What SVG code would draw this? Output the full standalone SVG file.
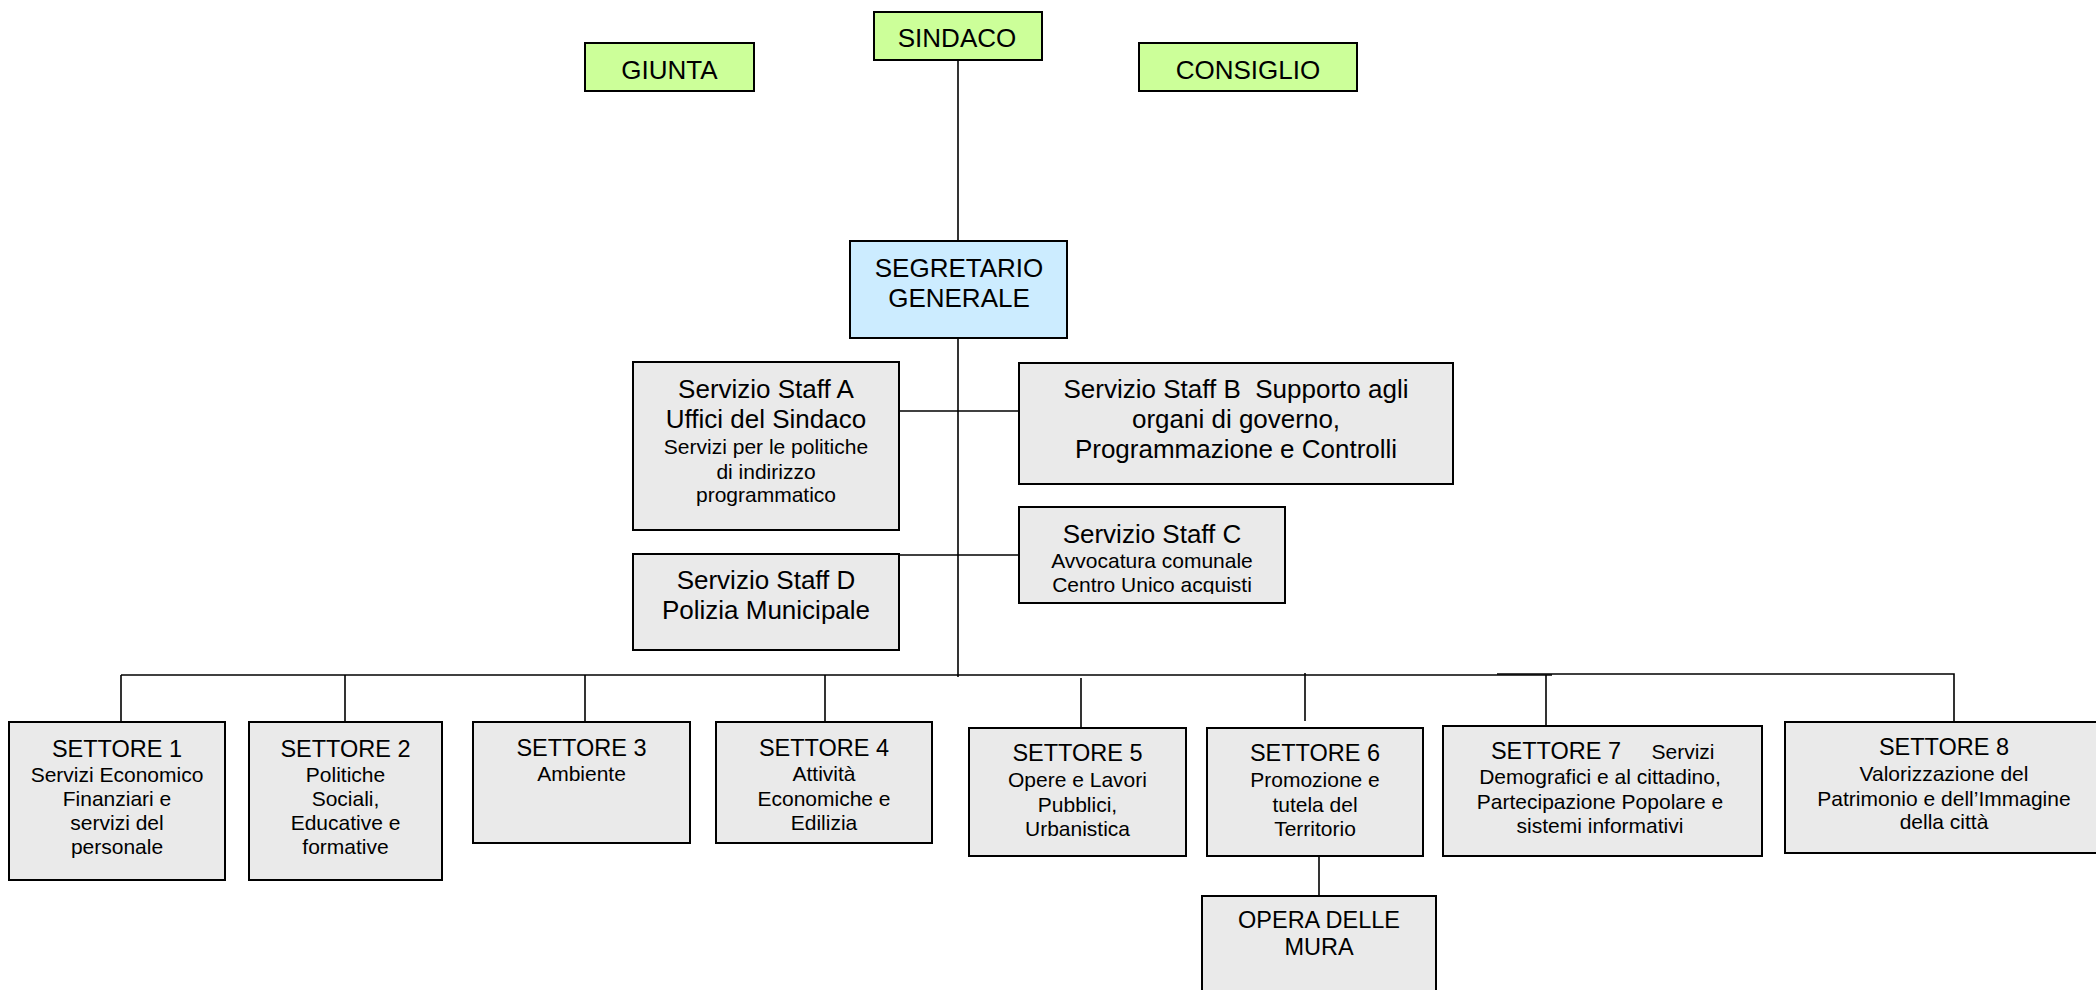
<svg xmlns="http://www.w3.org/2000/svg" width="2096" height="990" viewBox="0 0 2096 990">
<style>
.box{stroke:#000;stroke-width:2}
.g{fill:#CCFF99}
.b{fill:#CCECFF}
.n{fill:#EAEAEA}
.c{stroke:#000;stroke-width:1.6;fill:none}
text{font-family:"Liberation Sans",Arial,sans-serif;fill:#000;text-anchor:middle}
.t1{font-size:26px}
.t2{font-size:23.5px}
.t3{font-size:21px}
</style>
<defs>
<clipPath id="clipC"><rect x="1020" y="508" width="264" height="86"/></clipPath>
</defs>
<rect width="2096" height="990" fill="#fff"/>
<g id="connectors">
<line class="c" x1="958" y1="61" x2="958" y2="241"/>
<line class="c" x1="958" y1="338" x2="958" y2="677"/>
<line class="c" x1="899" y1="411" x2="1019" y2="411"/>
<line class="c" x1="899" y1="555" x2="1019" y2="555"/>
<line class="c" x1="121" y1="675" x2="1552" y2="675"/>
<polyline class="c" points="1497,674 1954,674 1954,722"/>
<line class="c" x1="121" y1="675" x2="121" y2="722"/>
<line class="c" x1="345" y1="675" x2="345" y2="722"/>
<line class="c" x1="585" y1="675" x2="585" y2="722"/>
<line class="c" x1="825" y1="675" x2="825" y2="722"/>
<line class="c" x1="1081" y1="678" x2="1081" y2="728"/>
<line class="c" x1="1305" y1="673" x2="1305" y2="721"/>
<line class="c" x1="1546" y1="675" x2="1546" y2="726"/>
<line class="c" x1="1319" y1="845" x2="1319" y2="895"/>
</g>
<g id="sindaco">
<rect class="box g" x="874" y="12" width="168" height="48"/>
<text class="t1" x="957" y="47">SINDACO</text>
</g>
<g id="giunta">
<rect class="box g" x="585" y="43" width="169" height="48"/>
<text class="t1" x="669.5" y="79">GIUNTA</text>
</g>
<g id="consiglio">
<rect class="box g" x="1139" y="43" width="218" height="48"/>
<text class="t1" x="1248" y="79">CONSIGLIO</text>
</g>
<g id="segretario">
<rect class="box b" x="850" y="241" width="217" height="97"/>
<text class="t1" x="959" y="277">SEGRETARIO</text>
<text class="t1" x="959" y="307">GENERALE</text>
</g>
<g id="staffA">
<rect class="box n" x="633" y="362" width="266" height="168"/>
<text class="t1" x="766" y="398">Servizio Staff A</text>
<text class="t1" x="766" y="428">Uffici del Sindaco</text>
<text class="t3" x="766" y="454">Servizi per le politiche</text>
<text class="t3" x="766" y="479">di indirizzo</text>
<text class="t3" x="766" y="502">programmatico</text>
</g>
<g id="staffB">
<rect class="box n" x="1019" y="363" width="434" height="121"/>
<text class="t1" x="1236" y="398" xml:space="preserve">Servizio Staff B  Supporto agli</text>
<text class="t1" x="1236" y="428">organi di governo,</text>
<text class="t1" x="1236" y="458">Programmazione e Controlli</text>
</g>
<g id="staffC">
<rect class="box n" x="1019" y="507" width="266" height="96"/>
<g clip-path="url(#clipC)">
<text class="t1" x="1152" y="543">Servizio Staff C</text>
<text class="t3" x="1152" y="568">Avvocatura comunale</text>
<text class="t3" x="1152" y="592">Centro Unico acquisti</text>
</g>
</g>
<g id="staffD">
<rect class="box n" x="633" y="554" width="266" height="96"/>
<text class="t1" x="766" y="589">Servizio Staff D</text>
<text class="t1" x="766" y="619">Polizia Municipale</text>
</g>
<g id="settore1">
<rect class="box n" x="9" y="722" width="216" height="158"/>
<text class="t2" x="117" y="757">SETTORE 1</text>
<text class="t3" x="117" y="782">Servizi Economico</text>
<text class="t3" x="117" y="806">Finanziari e</text>
<text class="t3" x="117" y="830">servizi del</text>
<text class="t3" x="117" y="854">personale</text>
</g>
<g id="settore2">
<rect class="box n" x="249" y="722" width="193" height="158"/>
<text class="t2" x="345.5" y="757">SETTORE 2</text>
<text class="t3" x="345.5" y="782">Politiche</text>
<text class="t3" x="345.5" y="806">Sociali,</text>
<text class="t3" x="345.5" y="830">Educative e</text>
<text class="t3" x="345.5" y="854">formative</text>
</g>
<g id="settore3">
<rect class="box n" x="473" y="722" width="217" height="121"/>
<text class="t2" x="581.5" y="756">SETTORE 3</text>
<text class="t3" x="581.5" y="781">Ambiente</text>
</g>
<g id="settore4">
<rect class="box n" x="716" y="722" width="216" height="121"/>
<text class="t2" x="824" y="756">SETTORE 4</text>
<text class="t3" x="824" y="781">Attività</text>
<text class="t3" x="824" y="806">Economiche e</text>
<text class="t3" x="824" y="830">Edilizia</text>
</g>
<g id="settore5">
<rect class="box n" x="969" y="728" width="217" height="128"/>
<text class="t2" x="1077.5" y="761">SETTORE 5</text>
<text class="t3" x="1077.5" y="787">Opere e Lavori</text>
<text class="t3" x="1077.5" y="812">Pubblici,</text>
<text class="t3" x="1077.5" y="836">Urbanistica</text>
</g>
<g id="settore6">
<rect class="box n" x="1207" y="728" width="216" height="128"/>
<text class="t2" x="1315" y="761">SETTORE 6</text>
<text class="t3" x="1315" y="787">Promozione e</text>
<text class="t3" x="1315" y="812">tutela del</text>
<text class="t3" x="1315" y="836">Territorio</text>
</g>
<g id="settore7">
<rect class="box n" x="1443" y="726" width="319" height="130"/>
<text y="759"><tspan class="t2" x="1556">SETTORE 7</tspan><tspan class="t3" x="1683">Servizi</tspan></text>
<text class="t3" x="1600" y="784">Demografici e al cittadino,</text>
<text class="t3" x="1600" y="809">Partecipazione Popolare e</text>
<text class="t3" x="1600" y="833">sistemi informativi</text>
</g>
<g id="settore8">
<rect class="box n" x="1785" y="722" width="318" height="131"/>
<text class="t2" x="1944" y="755">SETTORE 8</text>
<text class="t3" x="1944" y="781">Valorizzazione del</text>
<text class="t3" x="1944" y="806">Patrimonio e dell’Immagine</text>
<text class="t3" x="1944" y="829">della città</text>
</g>
<g id="opera">
<rect class="box n" x="1202" y="896" width="234" height="100"/>
<text class="t2" x="1319" y="928">OPERA DELLE</text>
<text class="t2" x="1319" y="955">MURA</text>
</g>
</svg>
